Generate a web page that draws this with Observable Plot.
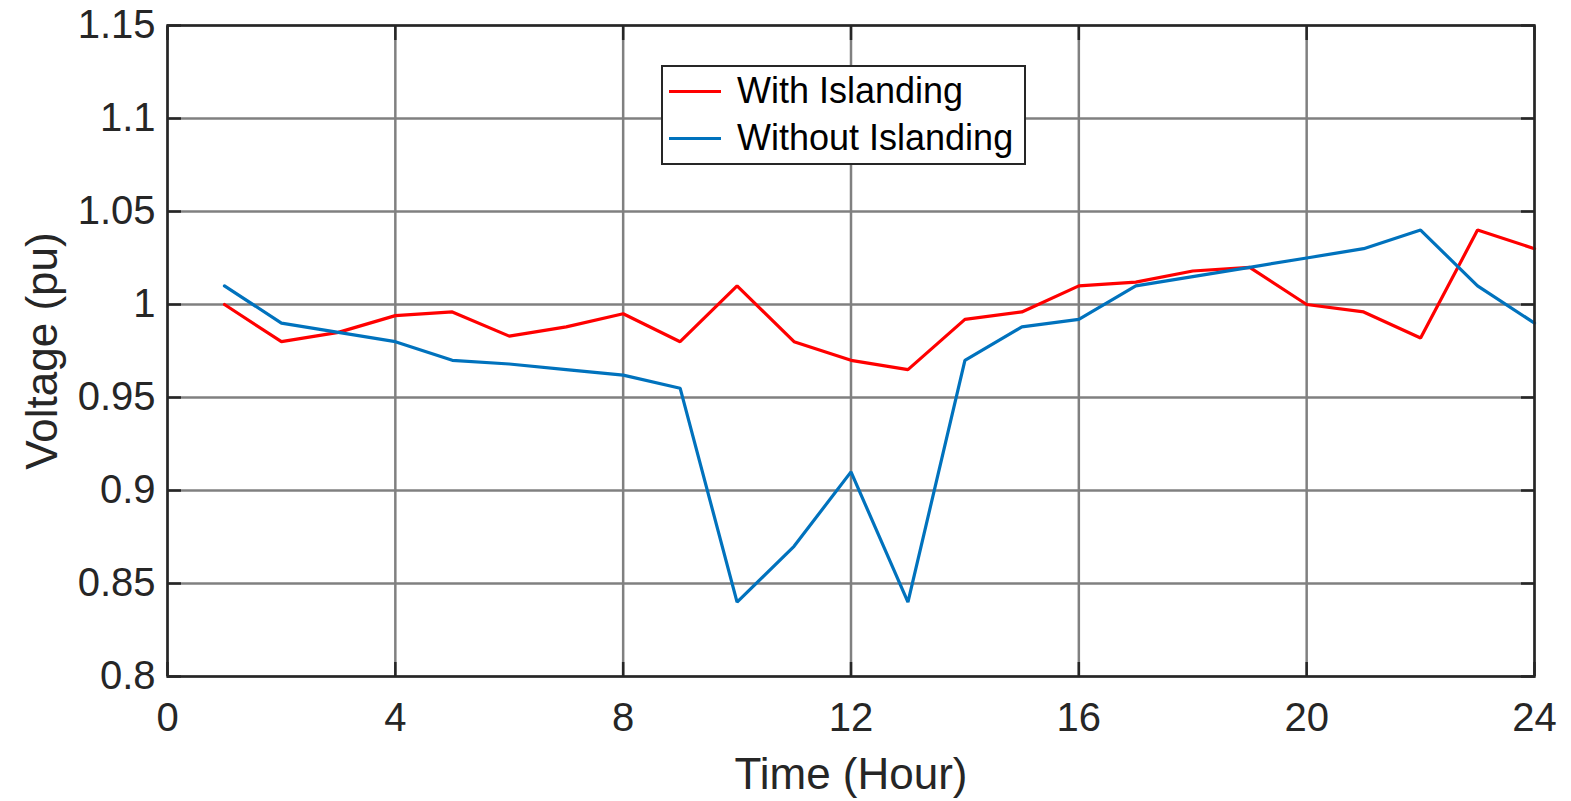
<!DOCTYPE html>
<html>
<head>
<meta charset="utf-8">
<script src="https://cdn.jsdelivr.net/npm/d3@7"></script>
<script src="https://cdn.jsdelivr.net/npm/@observablehq/plot@0.6"></script>
<style>
  html, body { margin: 0; padding: 0; background: #fff; }
  #wrap { position: relative; width: 1571px; height: 801px; font-family: "Liberation Sans", Arial, sans-serif; }
  #legend { position: absolute; left: 661px; top: 65px; width: 361px; height: 96px; border: 2.5px solid #262626; background: #fff; }
  .item { position: absolute; left: 0; height: 40px; display: flex; align-items: center; font-size: 36px; color: #000; }
  .swatch { display: inline-block; width: 52px; height: 3px; margin-left: 6px; margin-right: 16px; }
</style>
</head>
<body>
<div id="wrap"></div>
<script>
const hours = [1,2,3,4,5,6,7,8,9,10,11,12,13,14,15,16,17,18,19,20,21,22,23,24];
const withIslanding = [1.000,0.980,0.985,0.994,0.996,0.983,0.988,0.995,0.980,1.010,0.980,0.970,0.965,0.992,0.996,1.010,1.012,1.018,1.020,1.000,0.996,0.982,1.040,1.030];
const withoutIslanding = [1.010,0.990,0.985,0.980,0.970,0.968,0.965,0.962,0.955,0.840,0.870,0.910,0.840,0.970,0.988,0.992,1.010,1.015,1.020,1.025,1.030,1.040,1.010,0.990];
const seriesNames = ["With Islanding", "Without Islanding"];
const seriesColors = ["#ff0000", "#0072bd"];
const xTicks = [0,4,8,12,16,20,24];
const yTicks = [0.8,0.85,0.9,0.95,1,1.05,1.1,1.15];

const rows = [];
hours.forEach((h, i) => {
  rows.push({hour: h, v: withIslanding[i], s: seriesNames[0]});
});
hours.forEach((h, i) => {
  rows.push({hour: h, v: withoutIslanding[i], s: seriesNames[1]});
});

const fmt = v => String(+v.toFixed(2));
const axisColor = "#262626";

const chart = Plot.plot({
  width: 1571,
  height: 801,
  marginLeft: 167,
  marginRight: 37,
  marginTop: 25,
  marginBottom: 125,
  style: {fontFamily: "'Liberation Sans', Arial, sans-serif", background: "#fff", color: axisColor},
  x: {domain: [0, 24]},
  y: {domain: [0.8, 1.15]},
  color: {domain: seriesNames, range: seriesColors},
  marks: [
    Plot.gridX(xTicks, {stroke: "#808080", strokeOpacity: 1, strokeWidth: 2.5}),
    Plot.gridY(yTicks, {stroke: "#808080", strokeOpacity: 1, strokeWidth: 2.5}),
    Plot.line(rows, {x: "hour", y: "v", z: "s", stroke: "s", strokeWidth: 3.2, strokeLinejoin: "miter"}),
    Plot.axisX(xTicks, {anchor: "bottom", tickSize: -14, tickPadding: 40, strokeWidth: 2.5, stroke: axisColor, tickFormat: d => String(d), fontSize: 40, fill: axisColor,
      label: "Time (Hour)", labelAnchor: "center", labelArrow: "none", labelOffset: 112}),
    Plot.axisX(xTicks, {anchor: "top", tickSize: -14, strokeWidth: 2.5, stroke: axisColor, tickFormat: () => "", label: null}),
    Plot.axisY(yTicks, {anchor: "left", tickSize: -14, tickPadding: 26, strokeWidth: 2.5, stroke: axisColor, tickFormat: fmt, fontSize: 40, fill: axisColor,
      label: "Voltage (pu)", labelAnchor: "center", labelArrow: "none", labelOffset: 142}),
    Plot.axisY(yTicks, {anchor: "right", tickSize: -14, strokeWidth: 2.5, stroke: axisColor, tickFormat: () => "", label: null}),
    Plot.frame({stroke: axisColor, strokeWidth: 2.5})
  ]
});

// style label font size
chart.querySelectorAll("g[aria-label='x-axis label'] text, g[aria-label='y-axis label'] text").forEach(t => t.setAttribute("font-size", 44));
chart.querySelectorAll("g[aria-label='x-axis label'], g[aria-label='y-axis label']").forEach(g => { g.setAttribute("font-size", 44); g.setAttribute("fill", axisColor); });

const wrap = document.getElementById("wrap");
wrap.appendChild(chart);

const legend = document.createElement("div");
legend.id = "legend";
seriesNames.forEach((name, i) => {
  const item = document.createElement("div");
  item.className = "item";
  item.style.top = (i === 0 ? 4 : 51) + "px";
  const sw = document.createElement("span");
  sw.className = "swatch";
  sw.style.background = seriesColors[i];
  const label = document.createElement("span");
  label.textContent = name;
  item.appendChild(sw);
  item.appendChild(label);
  legend.appendChild(item);
});
wrap.appendChild(legend);
</script>
</body>
</html>
